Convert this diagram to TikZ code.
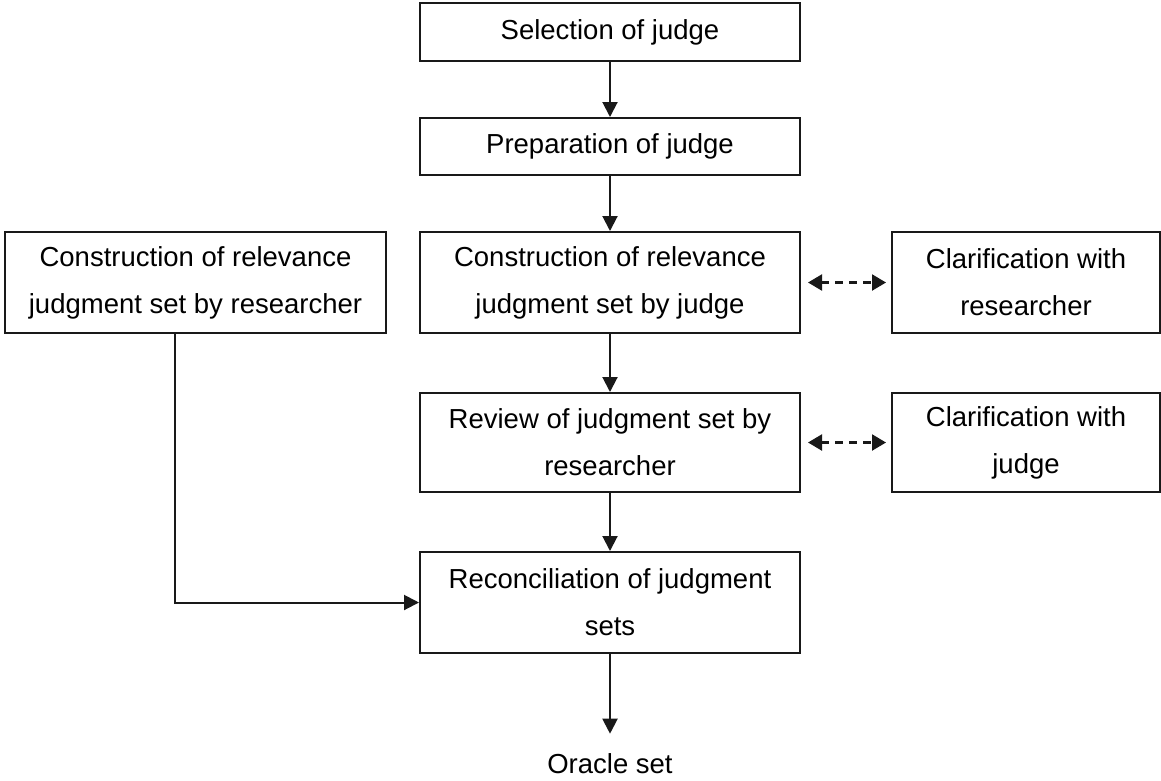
\documentclass[tikz,border=0pt]{standalone}
\usepackage{fontspec}
\setmainfont{Liberation Sans}
\usetikzlibrary{arrows.meta}
\begin{document}
\begin{tikzpicture}[x=1pt,y=-1pt,
  box/.style={draw=black!90,line width=2pt,rectangle,align=center,inner sep=0pt,
    font=\fontsize{27.5}{47}\selectfont},
  flow/.style={line width=2pt,draw=black!90,-{Triangle[length=15pt,width=15pt]}},
  dasharrow/.style={line width=2.2pt,draw=black!90,dash pattern=on 8pt off 6pt,
    {Triangle[length=14pt,width=16pt]}-{Triangle[length=14pt,width=16pt]}}
]
\useasboundingbox (0,0) rectangle (1161,780);
\node[box,minimum width=380pt,minimum height=58pt] (sel) at (610,32) {Selection of judge};
\node[box,minimum width=380pt,minimum height=57pt] (prep) at (610,146.5) {Preparation of judge};
\node[box,minimum width=380pt,minimum height=101pt] (cj) at (610,282.5) {Construction of relevance\\judgment set by judge};
\node[box,minimum width=381pt,minimum height=101pt] (cr) at (195.5,282.5) {Construction of relevance\\judgment set by researcher};
\node[box,minimum width=268pt,minimum height=101pt] (clr) at (1026,282.5) {Clarification with\\researcher};
\node[box,minimum width=380pt,minimum height=99pt] (rev) at (610,442.5) {Review of judgment set by\\researcher};
\node[box,minimum width=268pt,minimum height=99pt] (clj) at (1026,442.5) {Clarification with\\judge};
\node[box,minimum width=380pt,minimum height=101pt] (rec) at (610,602.5) {Reconciliation of judgment\\sets};
\node[font=\fontsize{27.5}{47}\selectfont,inner sep=0pt] (ora) at (610,764) {Oracle set};
\draw[flow] (sel) -- (prep);
\draw[flow] (prep) -- (cj);
\draw[flow] (cj) -- (rev);
\draw[flow] (rev) -- (rec);
\draw[flow] (rec) -- ([yshift=20pt]ora.north);
\draw[flow] ([xshift=-20.5pt]cr.south) |- (rec.west);
\draw[dasharrow,shorten <=7pt,shorten >=5pt] (cj.east) -- (clr.west);
\draw[dasharrow,shorten <=7pt,shorten >=5pt] (rev.east) -- (clj.west);
\end{tikzpicture}
\end{document}
